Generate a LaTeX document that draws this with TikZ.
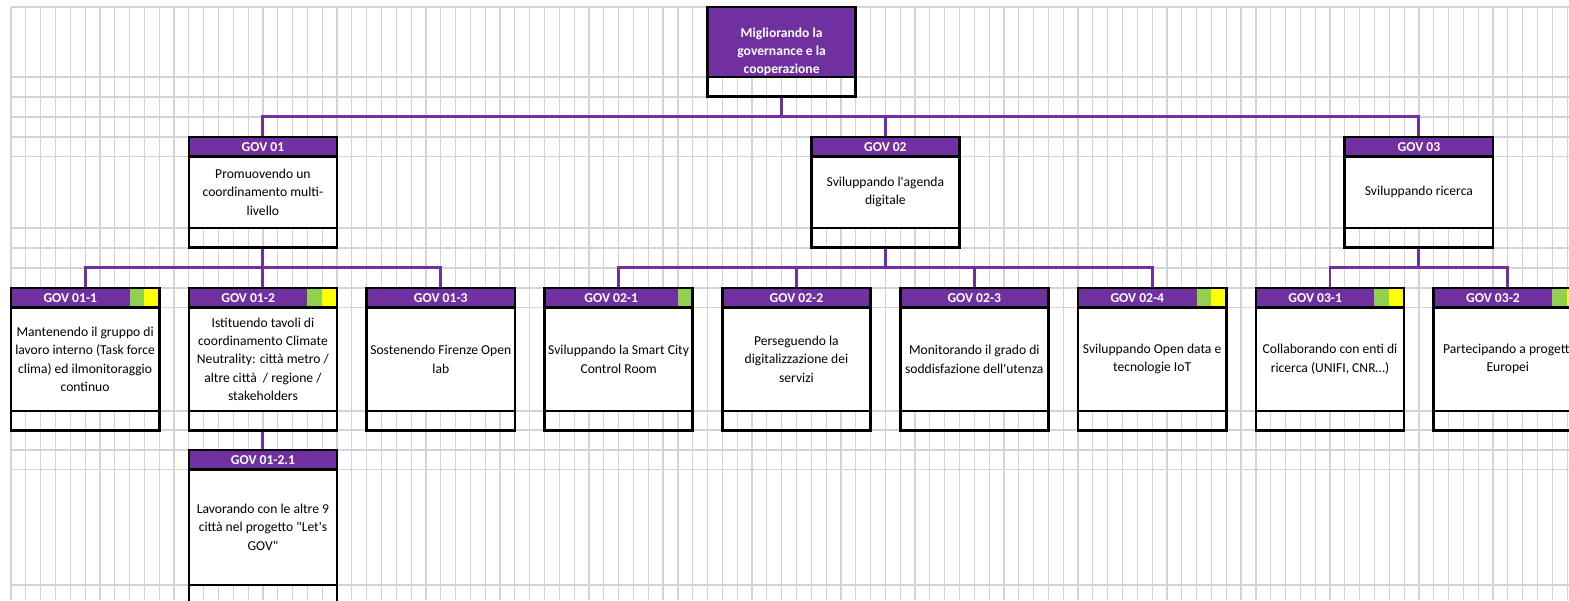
\documentclass[tikz,border=0pt]{standalone}
\usepackage{fontspec}
\setmainfont{Carlito}
\usetikzlibrary{positioning,calc}

\definecolor{govpurple}{RGB}{112,48,160}
\definecolor{okgreen}{RGB}{146,208,80}
\definecolor{warnyellow}{RGB}{255,255,0}
\definecolor{gridgray}{RGB}{212,212,212}
\def\cw{14.82}
\newcommand\govfont{\fontsize{10.2pt}{13.7pt}\selectfont}
\newcommand\onesq{\hspace*{11.1pt}}
\newcommand\twosq{\hspace*{22.2pt}}

\tikzset{
  gridline/.style={draw=gridgray,line width=0.9pt},
  govhead/.style={fill=govpurple,draw=black,line width=2pt,minimum width=111.15pt,
    minimum height=14.6pt,inner sep=0pt,outer sep=0pt,text=white,font=\govfont\bfseries},
  govbody/.style={fill=white,draw=black,line width=2pt,minimum width=111.15pt,
    inner sep=0pt,outer sep=0pt,align=center,font=\govfont},
  govfoot/.style={draw=black,line width=2pt,minimum width=111.15pt,
    minimum height=14.6pt,inner sep=0pt,outer sep=0pt},
  link/.style={draw=govpurple,line width=2.2pt,shorten <=1pt,shorten >=1pt}
}

\begin{document}
\begin{tikzpicture}[x=0.75pt,y=-0.75pt]
  \path[use as bounding box,fill=white] (0,0) rectangle (1569,600);
  % spreadsheet grid
  \foreach \r in {7,77,97,117,137,156.5,228,248,268,288,307.5,411,430,450,469.5,585}
    \draw[gridline] (11,\r) -- (1569,\r);
  \foreach \c in {0,...,105}
    \draw[gridline] ({11+\c*\cw},7) -- ({11+\c*\cw},600);

  % root
  \node[govbody,fill=govpurple,text=white,font=\govfont\bfseries,minimum height=52.5pt,anchor=north west]
    (top) at ({11+47*\cw},7) {\mbox{}\\[8pt]Migliorando la\\governance e la\\cooperazione};
  \node[govfoot,below=0pt of top] (topf) {};

  % level 1
  \node[govhead,anchor=north west] (g1h) at ({11+12*\cw},137) {GOV 01};
  \node[govbody,minimum height=53.6pt,below=0pt of g1h] (g1b) {Promuovendo un\\coordinamento multi-\\livello};
  \node[govfoot,below=0pt of g1b] (g1f) {};
  \node[govhead,anchor=north west] (g2h) at ({11+54*\cw},137) {GOV 02};
  \node[govbody,minimum height=53.6pt,below=0pt of g2h] (g2b) {Sviluppando l\textquotesingle agenda\\digitale};
  \node[govfoot,below=0pt of g2b] (g2f) {};
  \node[govhead,anchor=north west] (g3h) at ({11+90*\cw},137) {GOV 03};
  \node[govbody,minimum height=53.6pt,below=0pt of g3h] (g3b) {Sviluppando ricerca};
  \node[govfoot,below=0pt of g3b] (g3f) {};

  % level 2
  \node[govhead,anchor=north west] (g11h) at ({11+0*\cw},288) {GOV 01-1\twosq};
  \node[govbody,minimum height=77.6pt,below=0pt of g11h] (g11b) {Mantenendo il gruppo di\\lavoro interno (Task force\\clima) ed ilmonitoraggio\\continuo};
  \node[govfoot,below=0pt of g11b] (g11f) {};
  \node[govhead,anchor=north west] (g12h) at ({11+12*\cw},288) {GOV 01-2\twosq};
  \node[govbody,minimum height=77.6pt,below=0pt of g12h] (g12b) {Istituendo tavoli di\\coordinamento Climate\\Neutrality: città metro /\\altre città~ / regione /\\stakeholders};
  \node[govfoot,below=0pt of g12b] (g12f) {};
  \node[govhead,anchor=north west] (g13h) at ({11+24*\cw},288) {GOV 01-3};
  \node[govbody,minimum height=77.6pt,below=0pt of g13h] (g13b) {Sostenendo Firenze Open\\lab};
  \node[govfoot,below=0pt of g13b] (g13f) {};
  \node[govhead,anchor=north west] (g21h) at ({11+36*\cw},288) {GOV 02-1\onesq};
  \node[govbody,minimum height=77.6pt,below=0pt of g21h] (g21b) {Sviluppando la Smart City\\Control Room};
  \node[govfoot,below=0pt of g21b] (g21f) {};
  \node[govhead,anchor=north west] (g22h) at ({11+48*\cw},288) {GOV 02-2};
  \node[govbody,minimum height=77.6pt,below=0pt of g22h] (g22b) {Perseguendo la\\digitalizzazione dei\\servizi};
  \node[govfoot,below=0pt of g22b] (g22f) {};
  \node[govhead,anchor=north west] (g23h) at ({11+60*\cw},288) {GOV 02-3};
  \node[govbody,minimum height=77.6pt,below=0pt of g23h] (g23b) {Monitorando il grado di\\soddisfazione dell\textquotesingle utenza};
  \node[govfoot,below=0pt of g23b] (g23f) {};
  \node[govhead,anchor=north west] (g24h) at ({11+72*\cw},288) {GOV 02-4\twosq};
  \node[govbody,minimum height=77.6pt,below=0pt of g24h] (g24b) {Sviluppando Open data e\\tecnologie IoT};
  \node[govfoot,below=0pt of g24b] (g24f) {};
  \node[govhead,anchor=north west] (g31h) at ({11+84*\cw},288) {GOV 03-1\twosq};
  \node[govbody,minimum height=77.6pt,below=0pt of g31h] (g31b) {Collaborando con enti di\\ricerca (UNIFI, CNR…)};
  \node[govfoot,below=0pt of g31b] (g31f) {};
  \node[govhead,anchor=north west] (g32h) at ({11+96*\cw},288) {GOV 03-2\twosq};
  \node[govbody,minimum height=77.6pt,below=0pt of g32h] (g32b) {Partecipando a progetti\\Europei};
  \node[govfoot,below=0pt of g32b] (g32f) {};

  % level 3
  \node[govhead,anchor=north west] (g121h) at ({11+12*\cw},450) {GOV 01-2.1};
  \node[govbody,minimum height=86.6pt,below=0pt of g121h] (g121b) {Lavorando con le altre 9\\città nel progetto \textquotedbl Let\textquotesingle s\\GOV\textquotedbl};
  \node[govfoot,below=0pt of g121b] (g121f) {};

  % status squares
  \foreach \h in {g11h,g12h,g24h,g31h,g32h} {
    \fill[okgreen] ($(\h.north east)+(-2*\cw,1.3)$) rectangle ($(\h.south east)+(-\cw,-1.3)$);
    \fill[warnyellow] ($(\h.north east)+(-\cw,1.3)$) rectangle ($(\h.south east)+(-1.3,-1.3)$);
  }
  \fill[okgreen] ($(g21h.north east)+(-\cw,1.3)$) rectangle ($(g21h.south east)+(-1.3,-1.3)$);

  % connectors
  \draw[link] (topf.south) -- ++(0,20) -| (g1h.north);
  \draw[link] (topf.south) -- ++(0,20) -| (g2h.north);
  \draw[link] (topf.south) -- ++(0,20) -| (g3h.north);
  \draw[link] (g1f.south) -- ++(0,20) -| (g11h.north);
  \draw[link] (g1f.south) -- ++(0,20) -| (g12h.north);
  \draw[link] (g1f.south) -- ++(0,20) -| (g13h.north);
  \draw[link] (g2f.south) -- ++(0,20) -| (g21h.north);
  \draw[link] (g2f.south) -- ++(0,20) -| (g22h.north);
  \draw[link] (g2f.south) -- ++(0,20) -| (g23h.north);
  \draw[link] (g2f.south) -- ++(0,20) -| (g24h.north);
  \draw[link] (g3f.south) -- ++(0,20) -| (g31h.north);
  \draw[link] (g3f.south) -- ++(0,20) -| (g32h.north);
  \draw[link] (g12f.south) -- (g121h.north);
\end{tikzpicture}
\end{document}
